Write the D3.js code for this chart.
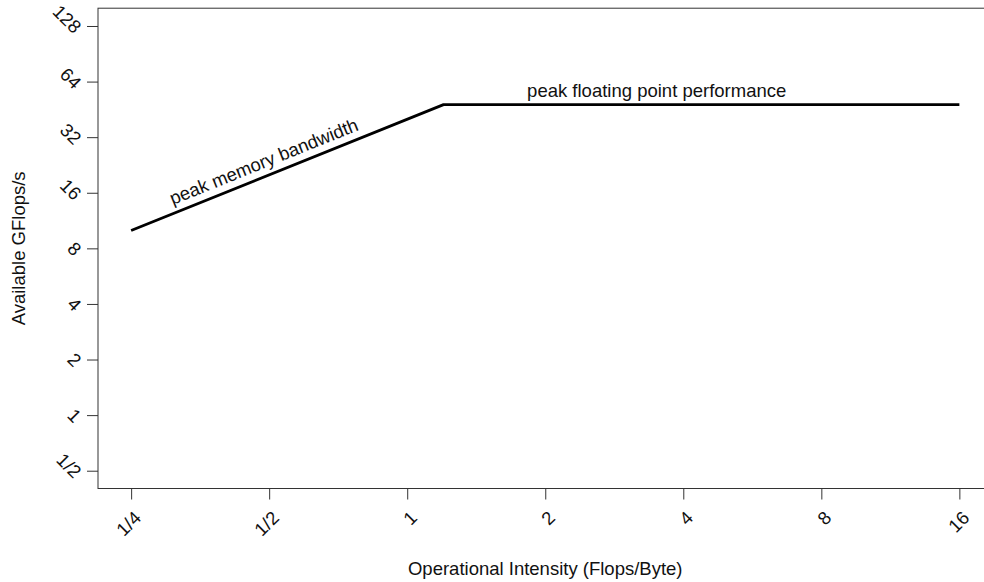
<!DOCTYPE html>
<html>
<head>
<meta charset="utf-8">
<script src="https://cdn.jsdelivr.net/npm/d3@7"></script>
<style>
  body { margin: 0; background: #fff; }
  text { font-family: "Liberation Sans", Arial, sans-serif; fill: #111; }
</style>
</head>
<body>
<div id="chart"></div>
<script>
// Roofline data
var xTicks = [0.25, 0.5, 1, 2, 4, 8, 16];
var xTickLabels = ["1/4", "1/2", "1", "2", "4", "8", "16"];
var yTicks = [0.5, 1, 2, 4, 8, 16, 32, 64, 128];
var yTickLabels = ["1/2", "1", "2", "4", "8", "16", "32", "64", "128"];
var roofX = [0.25, 1.2, 16];        // operational intensity
var roofY = [10, 48, 48];           // available GFlops/s
var bandwidthLabel = "peak memory bandwidth";
var peakLabel = "peak floating point performance";

var W = 984, H = 582;
var margin = {top: 8.2, left: 98};
var width = 894.5, height = 480.3;
var fs = 18.5;

// log2 scales with 4% padding like R
var lx = Math.log2(xTicks[0]), hx = Math.log2(xTicks[xTicks.length - 1]);
var px = (hx - lx) * 0.04;
var ly = Math.log2(yTicks[0]), hy = Math.log2(yTicks[yTicks.length - 1]);
var py = (hy - ly) * 0.04;

var x = d3.scaleLog().base(2)
    .domain([Math.pow(2, lx - px), Math.pow(2, hx + px)])
    .range([0, width]);
var y = d3.scaleLog().base(2)
    .domain([Math.pow(2, ly - py), Math.pow(2, hy + py)])
    .range([height, 0]);

var svg = d3.select("#chart").append("svg")
    .attr("width", W).attr("height", H)
    .style("display", "block");

var g = svg.append("g")
    .attr("transform", "translate(" + margin.left + "," + margin.top + ")");

// plot box
g.append("rect")
    .attr("x", 0).attr("y", 0)
    .attr("width", width).attr("height", height)
    .attr("fill", "none")
    .attr("stroke", "#333")
    .attr("stroke-width", 1);

// x axis
var xAxis = g.append("g")
    .attr("transform", "translate(0," + height + ")")
    .call(d3.axisBottom(x)
      .tickValues(xTicks)
      .tickSize(11)
      .tickFormat(function(d, i) { return xTickLabels[i]; }));
xAxis.select(".domain").remove();
xAxis.selectAll(".tick line").attr("stroke", "#333");
xAxis.selectAll(".tick text")
    .attr("font-size", fs)
    .attr("text-anchor", "end")
    .attr("dy", "0.35em")
    .attr("y", 0)
    .attr("transform", "translate(6,26) rotate(-45)");

// y axis
var yAxis = g.append("g")
    .call(d3.axisLeft(y)
      .tickValues(yTicks)
      .tickSize(11)
      .tickFormat(function(d, i) { return yTickLabels[i]; }));
yAxis.select(".domain").remove();
yAxis.selectAll(".tick line").attr("stroke", "#333");
yAxis.selectAll(".tick text")
    .attr("font-size", fs)
    .attr("text-anchor", "end")
    .attr("dy", "0.35em")
    .attr("x", 0)
    .attr("transform", "translate(-20,3.5) rotate(45)");

// roofline
var line = d3.line()
    .x(function(d) { return x(d[0]); })
    .y(function(d) { return y(d[1]); });
g.append("path")
    .datum(d3.zip(roofX, roofY))
    .attr("d", line)
    .attr("fill", "none")
    .attr("stroke", "#000")
    .attr("stroke-width", 2.8)
    .attr("stroke-linejoin", "round");

// memory bandwidth label, along the slope
var bx = 0.5, by = roofY[0] * bx / roofX[0];
var ang = Math.atan2(y(roofY[1]) - y(roofY[0]), x(roofX[1]) - x(roofX[0])) * 180 / Math.PI;
g.append("text")
    .attr("transform", "translate(" + x(bx) + "," + y(by) + ") rotate(" + ang + ")")
    .attr("y", -8)
    .attr("text-anchor", "middle")
    .attr("font-size", fs)
    .text(bandwidthLabel);

// peak performance label
g.append("text")
    .attr("x", x(3.5))
    .attr("y", y(roofY[1]) - 8)
    .attr("text-anchor", "middle")
    .attr("font-size", fs)
    .text(peakLabel);

// axis titles
svg.append("text")
    .attr("x", margin.left + width / 2)
    .attr("y", 575)
    .attr("text-anchor", "middle")
    .attr("font-size", fs)
    .text("Operational Intensity (Flops/Byte)");

svg.append("text")
    .attr("transform", "translate(25," + (margin.top + height / 2) + ") rotate(-90)")
    .attr("text-anchor", "middle")
    .attr("font-size", fs)
    .text("Available GFlops/s");
</script>
</body>
</html>
